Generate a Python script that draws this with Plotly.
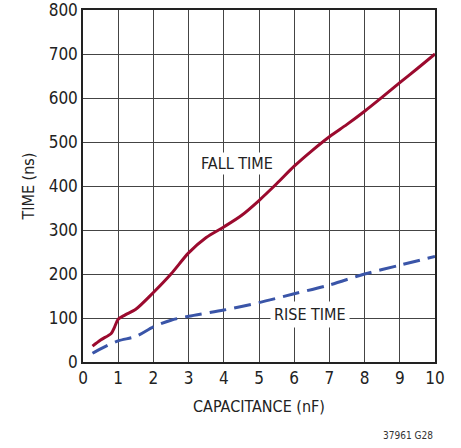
import plotly.graph_objects as go

cap_fall = [0.27, 0.5, 0.8, 0.9, 1.0, 1.2, 1.5, 2.0, 2.5, 3.0, 3.5, 4.0, 4.5, 5.0, 5.5, 6.0, 6.5, 7.0, 7.5, 8.0, 8.5, 9.0, 9.5, 10.0]
fall_time = [36, 50, 65, 80, 97, 107, 120, 158, 200, 248, 283, 307, 333, 367, 405, 445, 480, 512, 540, 570, 602, 635, 667, 700]
cap_rise = [0.27, 0.5, 1.0, 1.5, 2.0, 2.5, 3.0, 4.0, 5.0, 6.0, 7.0, 8.0, 9.0, 10.0]
rise_time = [20, 30, 48, 58, 80, 95, 104, 118, 135, 155, 175, 200, 220, 240]
x_ticks = list(range(0, 11))
y_ticks = list(range(0, 801, 100))

FONT = "DejaVu Sans Condensed, Roboto, Arial"

fig = go.Figure()
fig.add_trace(go.Scatter(x=cap_fall, y=fall_time, mode="lines",
                         line=dict(color="#9b0a2e", width=3, shape="spline", smoothing=0.8)))
fig.add_trace(go.Scatter(x=cap_rise, y=rise_time, mode="lines",
                         line=dict(color="#3a55a8", width=3, dash="17px,8px", shape="spline", smoothing=0.8)))

fig.add_annotation(x=4.37, y=452, text="FALL TIME", showarrow=False,
                   font=dict(family=FONT, size=16, color="#222"), bgcolor="white")
fig.add_annotation(x=6.45, y=107, text="RISE TIME", showarrow=False,
                   font=dict(family=FONT, size=16, color="#222"), bgcolor="white", borderpad=3)
fig.add_annotation(x=1, y=0, xref="paper", yref="paper", xanchor="right", yanchor="top",
                   xshift=0, yshift=-66, text="37961 G28", showarrow=False,
                   font=dict(family=FONT, size=10, color="#333"))

fig.update_xaxes(range=[0, 10], tickvals=x_ticks, showgrid=True, gridcolor="#444", gridwidth=1,
                 showline=True, linecolor="#222", linewidth=1.5, mirror=True, zeroline=False,
                 ticks="", automargin=False, ticklabeloverflow="allow",
                 tickfont=dict(family=FONT, size=17, color="#222"),
                 title=dict(text="CAPACITANCE (nF)", font=dict(family=FONT, size=16, color="#222"), standoff=14))
fig.update_yaxes(range=[0, 800], tickvals=y_ticks, showgrid=True, gridcolor="#444", gridwidth=1,
                 showline=True, linecolor="#222", linewidth=1.5, mirror=True, zeroline=False,
                 ticks="", automargin=False, ticklabeloverflow="allow",
                 tickfont=dict(family=FONT, size=17, color="#222"),
                 title=dict(text="TIME (ns)", font=dict(family=FONT, size=16, color="#222"), standoff=10))

fig.update_layout(width=461, height=448, margin=dict(l=83, r=26, t=10, b=86, autoexpand=False),
                  plot_bgcolor="white", paper_bgcolor="white", showlegend=False)
fig.write_html("out.html", config={"displayModeBar": False},
               post_script="document.body.style.margin='0';")
